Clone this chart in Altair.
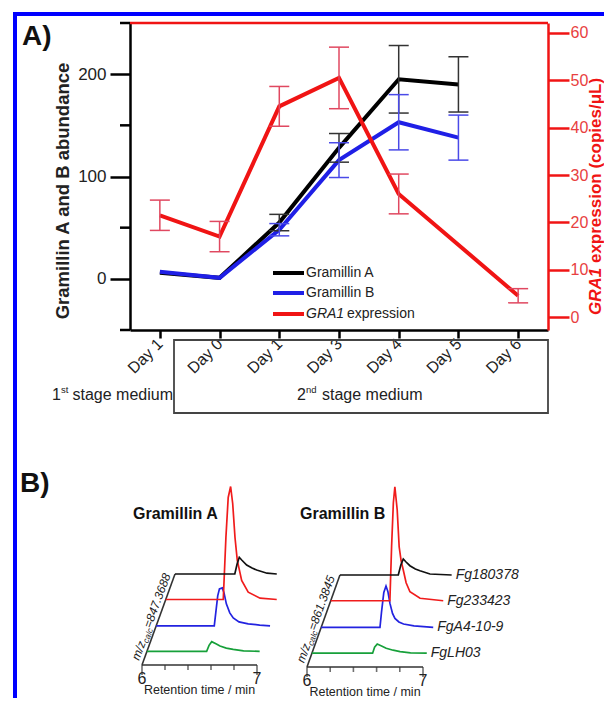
import math
import altair as alt
import pandas as pd

FONT = "Liberation Sans"
W, H = 418, 307

# ---------------- Panel A values ----------------
day_labels = ["Day 1", "Day 0", "Day 1", "Day 3", "Day 4", "Day 5", "Day 6"]
gramillin_a = [6, 1, 55, 128, 195, 190, None]
gramillin_a_err = [0, 0, 8, 14, 33, 27, 0]
gramillin_b = [7, 1, 48, 116, 153, 138, None]
gramillin_b_err = [0, 0, 6, 17, 27, 22, 0]
gra1_expr = [21.5, 17.0, 44.5, 50.5, 26.0, None, 4.5]
gra1_expr_err = [3.2, 3.2, 4.2, 6.5, 4.2, 0, 1.5]
left_ticks = [0, 100, 200]
left_minor_ticks = [-50, 50, 150, 250]
right_ticks = [0, 10, 20, 30, 40, 50, 60]

# ---------------- Panel B values ----------------
rt_major = [6.0, 7.0]
rt_minor = [6.2, 6.4, 6.6, 6.8]
strains = ["FgLH03", "FgA4-10-9", "Fg233423", "Fg180378"]
strain_colors = ["#17a03a", "#2323e0", "#f01c1c", "#111111"]
depth = [0.15, 0.43, 0.72, 1.0]

ga_lh03_rt = [6.0, 6.519, 6.54, 6.563, 6.6, 6.635, 6.69, 6.75, 6.84, 6.98]
ga_lh03_i = [0, 0, 6, 9.7, 7.5, 5.3, 3.3, 2.0, 0.4, 0]
ga_a4_rt = [6.0, 6.505, 6.52, 6.535, 6.55, 6.575, 6.59, 6.61, 6.64, 6.67, 6.72, 6.8, 6.9, 6.99]
ga_a4_i = [0, 0, 15, 30, 37, 38, 33, 22, 13, 8, 4, 2, 0.8, 0]
ga_233_rt = [6.0, 6.5, 6.523, 6.543, 6.564, 6.582, 6.602, 6.622, 6.66, 6.717, 6.82, 6.965]
ga_233_i = [0, 0, 62, 102, 113, 96, 62, 39, 19, 7.3, 1.3, 0]
ga_180_rt = [6.0, 6.52, 6.54, 6.559, 6.58, 6.623, 6.67, 6.71, 6.8, 6.885]
ga_180_i = [0, 0, 10, 16.7, 14, 9, 6, 4, 0.8, 0]

gb_lh03_rt = [6.0, 6.523, 6.54, 6.563, 6.6, 6.64, 6.7, 6.76, 6.85, 6.99]
gb_lh03_i = [0, 0, 6, 9.2, 7.3, 5, 3, 1.6, 0.4, 0]
gb_a4_rt = [6.0, 6.507, 6.52, 6.54, 6.559, 6.575, 6.593, 6.615, 6.636, 6.67, 6.71, 6.8, 6.966]
gb_a4_i = [0, 0, 15, 35, 41.4, 36, 24, 14, 9, 5.5, 3.4, 1.5, 0]
gb_233_rt = [6.0, 6.51, 6.525, 6.54, 6.553, 6.573, 6.59, 6.607, 6.625, 6.65, 6.683, 6.77, 6.97]
gb_233_i = [0, 0, 55, 98, 114, 91, 54, 40, 31, 18, 9, 2.5, 0]
gb_180_rt = [6.0, 6.503, 6.525, 6.546, 6.57, 6.603, 6.65, 6.69, 6.776, 6.963]
gb_180_i = [0, 0, 10, 16, 13, 9.3, 6, 4.3, 1, 0]

# pseudo-3D depth vector (retention-time shift, intensity shift) of each panel
diag_a = (0.287, 91)
diag_b = (0.284, 92)


def dummy():
    return pd.DataFrame({"k": [0]})


def txt(s, x, y, size, color="#222", weight="normal", style="normal",
        align="left", baseline="alphabetic", angle=0):
    return alt.Chart(dummy()).mark_text(
        text=s, font=FONT, fontSize=size, fontWeight=weight, fontStyle=style,
        color=color, align=align, baseline=baseline, angle=angle
    ).encode(x=alt.value(x), y=alt.value(y))


# ---------------- Panel A ----------------
label_expr = "[" + ",".join("'%s'" % d for d in day_labels) + "][datum.value]"
x_axis = alt.Axis(values=list(range(len(day_labels))), labelExpr=label_expr,
                  labelAngle=315, labelAlign="right", labelBaseline="middle",
                  labelFontSize=16, labelFont=FONT, labelColor="#222",
                  labelPadding=3, labelFlush=False, labelOverlap=False,
                  tickSize=8, tickWidth=2.5, tickColor="black",
                  domainColor="black", domainWidth=2.5, grid=False, title=None)
yl_axis = alt.Axis(values=left_ticks, tickSize=20, tickWidth=2.5, tickColor="black",
                   domainColor="black", domainWidth=2.5, labelFontSize=17,
                   labelFont=FONT, labelColor="#222", labelPadding=4,
                   labelFlush=False, labelOverlap=False, grid=False, title=None)
yr_axis = alt.Axis(orient="right", values=right_ticks, tickSize=21, tickWidth=2.5,
                   tickColor="#f01414", domainColor="#f01414", domainWidth=2.5,
                   labelFontSize=16, labelFont=FONT, labelColor="#e84040",
                   labelPadding=1, labelFlush=False, labelOverlap=False,
                   grid=False, title=None)


def XS():
    return alt.Scale(domain=[-0.5, 6.5], nice=False, zero=False)


def YL():
    return alt.Scale(domain=[-50, 250], nice=False, zero=False)


def YR():
    return alt.Scale(domain=[-2.73, 62.1], nice=False, zero=False)


def line_df(vals):
    return pd.DataFrame([{"idx": i, "val": v} for i, v in enumerate(vals) if v is not None])


def err_df(vals, errs):
    return pd.DataFrame([{"idx": i, "lo": v - e, "hi": v + e}
                         for i, (v, e) in enumerate(zip(vals, errs)) if v is not None and e])


def cap_df(vals, errs):
    rows = []
    for i, (v, e) in enumerate(zip(vals, errs)):
        if v is not None and e:
            rows.append({"idx": i, "v": v - e})
            rows.append({"idx": i, "v": v + e})
    return pd.DataFrame(rows)


def series_layers(vals, errs, color, ecolor, yscale_fn, xaxis, yaxis):
    ln = alt.Chart(line_df(vals)).mark_line(color=color, strokeWidth=4).encode(
        x=alt.X("idx:Q", scale=XS(), axis=xaxis),
        y=alt.Y("val:Q", scale=yscale_fn(), axis=yaxis))
    er = alt.Chart(err_df(vals, errs)).mark_rule(color=ecolor, strokeWidth=1.5).encode(
        x=alt.X("idx:Q", scale=XS(), axis=None),
        y=alt.Y("lo:Q", scale=yscale_fn(), axis=None), y2="hi:Q")
    cp = alt.Chart(cap_df(vals, errs)).mark_tick(orient="horizontal", size=20, thickness=1.5,
                                                 color=ecolor, opacity=1).encode(
        x=alt.X("idx:Q", scale=XS(), axis=None),
        y=alt.Y("v:Q", scale=yscale_fn(), axis=None))
    return ln, er, cp


a_ln, a_er, a_cp = series_layers(gramillin_a, gramillin_a_err, "#000000", "#333333", YL, x_axis, yl_axis)
b_ln, b_er, b_cp = series_layers(gramillin_b, gramillin_b_err, "#1f1fe6", "#4a4ae8", YL, None, None)
r_ln, r_er, r_cp = series_layers(gra1_expr, gra1_expr_err, "#f01414", "#e04860", YR, None, yr_axis)
minor = alt.Chart(pd.DataFrame({"val": left_minor_ticks})).mark_rule(
    color="black", strokeWidth=2.5).encode(
    y=alt.Y("val:Q", scale=YL(), axis=None), x=alt.value(-10), x2=alt.value(0))
panel_a = [a_ln, b_ln, a_er, a_cp, b_er, b_cp, minor, r_ln, r_er, r_cp]


# ---------------- Panel B ----------------
def panel_b(traces, diag, x_range, y_base, show_names):
    d_rt, d_int = diag

    def XB(f):
        return alt.X(f, scale=alt.Scale(domain=[6, 7], range=x_range, nice=False, zero=False), axis=None)

    def YB(f):
        return alt.Y(f, scale=alt.Scale(domain=[0, 100], range=[y_base, y_base - 100],
                                        nice=False, zero=False), axis=None)

    layers = []
    axis_df = pd.DataFrame({"x": [6, 6], "x2": [7, 6 + d_rt], "y": [0, 0], "y2": [0, d_int]})
    layers.append(alt.Chart(axis_df).mark_rule(color="#333", strokeWidth=1.6).encode(
        x=XB("x:Q"), x2="x2:Q", y=YB("y:Q"), y2="y2:Q"))
    layers.append(alt.Chart(pd.DataFrame({"x": rt_major, "y": [0, 0]})).mark_tick(
        orient="vertical", size=10, thickness=1.6, color="#333", yOffset=5).encode(
        x=XB("x:Q"), y=YB("y:Q")))
    layers.append(alt.Chart(pd.DataFrame({"x": rt_minor, "y": [0] * len(rt_minor)})).mark_tick(
        orient="vertical", size=5, thickness=1.6, color="#333", yOffset=2.5).encode(
        x=XB("x:Q"), y=YB("y:Q")))
    layers.append(alt.Chart(pd.DataFrame({"x": rt_major, "y": [0, 0],
                                          "t": [str(int(v)) for v in rt_major]})).mark_text(
        font=FONT, fontSize=16, color="#222", align="center", dy=19, baseline="alphabetic").encode(
        x=XB("x:Q"), y=YB("y:Q"), text="t:N"))
    layers.append(alt.Chart(pd.DataFrame({"x": [6.5], "y": [0]})).mark_text(
        text="Retention time / min", font=FONT, fontSize=12.5, color="#222",
        align="center", dy=29, baseline="alphabetic").encode(x=XB("x:Q"), y=YB("y:Q")))
    name_rows = []
    for (rt, inten), f, col, nm in zip(traces, depth, strain_colors, strains):
        df = pd.DataFrame({"x": [r + f * d_rt for r in rt], "y": [v + f * d_int for v in inten]})
        layers.append(alt.Chart(df).mark_line(color=col, strokeWidth=1.7).encode(
            x=XB("x:Q"), y=YB("y:Q")))
        name_rows.append({"x": rt[-1] + f * d_rt, "y": inten[-1] + f * d_int, "t": nm})
    if show_names:
        layers.append(alt.Chart(pd.DataFrame(name_rows)).mark_text(
            font=FONT, fontSize=14, fontStyle="italic", color="#222", align="left",
            baseline="middle", dx=4).encode(x=XB("x:Q"), y=YB("y:Q"), text="t:N"))
    return layers


traces_a = [(ga_lh03_rt, ga_lh03_i), (ga_a4_rt, ga_a4_i), (ga_233_rt, ga_233_i), (ga_180_rt, ga_180_i)]
traces_b = [(gb_lh03_rt, gb_lh03_i), (gb_a4_rt, gb_a4_i), (gb_233_rt, gb_233_i), (gb_180_rt, gb_180_i)]
panel_ba = panel_b(traces_a, diag_a, [12, 127], 642, False)
panel_bb = panel_b(traces_b, diag_b, [177, 293], 644, True)


# ---------------- annotations (pixel positions relative to plot origin) ----------------
def mz_label(start, u, mass):
    n = (abs(u[1]), abs(u[0]))
    ang = math.degrees(math.atan2(u[1], u[0])) % 360
    sx, sy = start
    w1 = 1.611 * 12
    w2 = 1.778 * 8.5
    return [
        txt("m/z", sx, sy, 12, style="italic", angle=ang),
        txt("calc", sx + w1 * u[0] + 2.5 * n[0], sy + w1 * u[1] + 2.5 * n[1], 8.5, style="italic", angle=ang),
        txt("=" + mass, sx + (w1 + w2) * u[0], sy + (w1 + w2) * u[1], 12, style="italic", angle=ang),
    ]


ua = (33 / 94.9, -89 / 94.9)
ub = (33 / 97.7, -92 / 97.7)

frame = alt.Chart(dummy()).mark_rect(fillOpacity=0, stroke="#0000ff", strokeWidth=4).encode(
    x=alt.value(-115), y=alt.value(-9), x2=alt.value(2000), y2=alt.value(2000))
top_rule = alt.Chart(dummy()).mark_rule(color="#f01414", strokeWidth=2.5).encode(
    x=alt.value(0), x2=alt.value(W), y=alt.value(0))
stage_box = alt.Chart(dummy()).mark_rect(fillOpacity=0, stroke="#444", strokeWidth=1.8).encode(
    x=alt.value(44), x2=alt.value(418), y=alt.value(317), y2=alt.value(390))

leg_colors = ["#000000", "#1f1fe6", "#f01414"]
leg_y = [250, 270, 291]
legend_layers = []
for c, yy in zip(leg_colors, leg_y):
    legend_layers.append(alt.Chart(dummy()).mark_rule(color=c, strokeWidth=4).encode(
        x=alt.value(143), x2=alt.value(174), y=alt.value(yy)))
legend_layers += [
    txt("Gramillin A", 176, leg_y[0], 14, baseline="middle"),
    txt("Gramillin B", 176, leg_y[1], 14, baseline="middle"),
    txt("GRA1", 176, leg_y[2], 14, style="italic", baseline="middle"),
    txt("expression", 217, leg_y[2], 14, baseline="middle"),
]

TS = 17
annots = [
    txt("A)", -108, 22, 28, color="#111", weight="bold"),
    txt("B)", -110, 469, 28, color="#111", weight="bold"),
    txt("Gramillin A and B abundance", -67, 168, 18.5, color="#222", weight="bold",
        align="center", baseline="middle", angle=270),
    txt("GRA1", 466, 292, TS, color="#f01414", weight="bold", style="italic",
        baseline="middle", angle=270),
    txt("expression (copies/\u03bcL)", 466, 292 - 3.056 * TS, TS, color="#f01414",
        weight="bold", baseline="middle", angle=270),
    txt("1", -78, 377, 16),
    txt("st", -69, 370, 9.5),
    txt("stage medium", 43, 377, 16, align="right"),
    txt("2", 167, 377, 16),
    txt("nd", 176, 370, 9.5),
    txt("stage medium", 192, 377, 16),
    txt("Gramillin A", 3, 496, 16, color="#111", weight="bold"),
    txt("Gramillin B", 170, 496, 16, color="#111", weight="bold"),
]
annots += mz_label((9, 638), ua, "847.3688")
annots += mz_label((174, 640.6), ub, "861.3845")

chart = alt.layer(
    frame, stage_box, top_rule, *panel_a, *panel_ba, *panel_bb, *legend_layers, *annots
).resolve_scale(x="independent", y="independent").properties(
    width=W, height=H,
    autosize=alt.AutoSizeParams(type="none"),
    padding={"left": 122, "top": 15, "right": 56, "bottom": 368},
    background="white",
).configure_view(strokeWidth=0)

chart.save("out.html", embed_options={"renderer": "svg", "actions": False})
